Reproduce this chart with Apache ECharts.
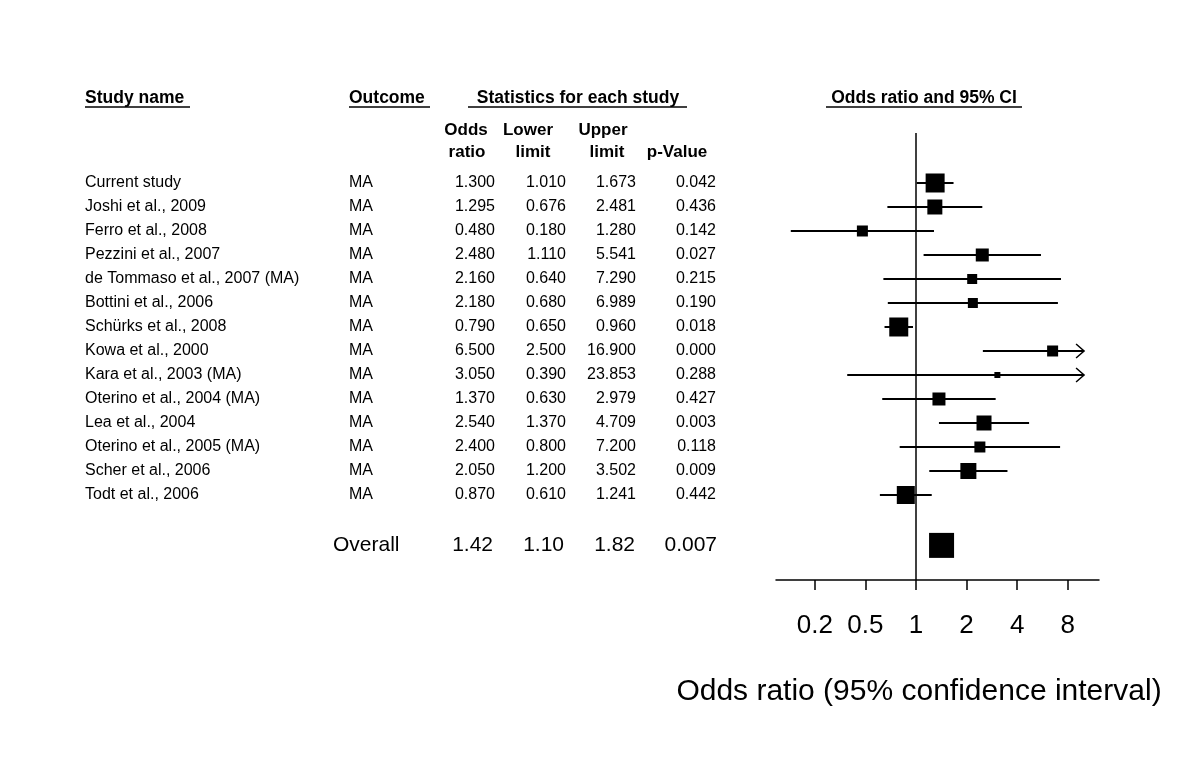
<!DOCTYPE html>
<html><head><meta charset="utf-8">
<script src="https://cdn.jsdelivr.net/npm/echarts@6/dist/echarts.min.js"></script>
<style>html,body{margin:0;padding:0;background:#fff}#c{width:1200px;height:772px}</style>
</head><body><div id="c"></div>
<script>
// ---------- data ----------
const studyNames = ['Current study','Joshi et al., 2009','Ferro et al., 2008','Pezzini et al., 2007','de Tommaso et al., 2007 (MA)','Bottini et al., 2006','Schürks et al., 2008','Kowa et al., 2000','Kara et al., 2003 (MA)','Oterino et al., 2004 (MA)','Lea et al., 2004','Oterino et al., 2005 (MA)','Scher et al., 2006','Todt et al., 2006'];
const outcomes = ['MA','MA','MA','MA','MA','MA','MA','MA','MA','MA','MA','MA','MA','MA'];
const oddsRatios = [1.300,1.295,0.480,2.480,2.160,2.180,0.790,6.500,3.050,1.370,2.540,2.400,2.050,0.870];
const lowerLimits = [1.010,0.676,0.180,1.110,0.640,0.680,0.650,2.500,0.390,0.630,1.370,0.800,1.200,0.610];
const upperLimits = [1.673,2.481,1.280,5.541,7.290,6.989,0.960,16.900,23.853,2.979,4.709,7.200,3.502,1.241];
const pValues = [0.042,0.436,0.142,0.027,0.215,0.190,0.018,0.000,0.288,0.427,0.003,0.118,0.009,0.442];
const studyWeights = [19,15,11,13,10,10,19,11,6,13,15,11,16,18];
const overallLabel = 'Overall';
const overallOR = 1.42, overallLower = 1.10, overallUpper = 1.82, overallP = 0.007, overallWeight = 25;
const tickValues = [0.25,0.5,1,2,4,8];
const tickLabels = ['0.2','0.5','1','2','4','8'];

// ---------- layout ----------
const FONT = '"Liberation Sans", Arial, Helvetica, sans-serif';
const overallRow = 15.1;
const xMinOR = 0.147, xMaxOR = 12.27, clipOR = 10;
const yMin = -2.083, yMax = 16.542;
const lg = Math.log2;
const boxScale = 1;

const forestData = oddsRatios.map((or, i) => [lg(lowerLimits[i]), lg(or), lg(upperLimits[i]), i, studyWeights[i], 1]);
forestData.push([lg(overallLower), lg(overallOR), lg(overallUpper), overallRow, overallWeight, 0]);

const tableData = studyNames.map((n, i) => [0, i]);
tableData.push([0, overallRow]);

const colName = 85, colOutcome = 349, colOR = 495, colLower = 566, colUpper = 636, colP = 716;

function txt(x, y, text, font, align) {
  return {type: 'text', x: x, y: y, style: {text: text, font: font, fill: '#000', textAlign: align || 'left', textVerticalAlign: 'middle'}};
}
function uline(x1, x2, y) {
  return {type: 'line', shape: {x1: x1, y1: y, x2: x2, y2: y}, style: {stroke: '#000', lineWidth: 1.5}};
}

const chart = echarts.init(document.getElementById('c'), null, {renderer: 'canvas'});
const HB = 'bold 17.5px ' + FONT;
const SB = 'bold 17px ' + FONT;

const option = {
  backgroundColor: '#fff',
  animation: false,
  grid: [
    {left: 776, top: 133, width: 323, height: 447},
    {left: 0, top: 133, width: 1200, height: 447}
  ],
  xAxis: [
    {
      type: 'value', gridIndex: 0, min: lg(xMinOR), max: lg(xMaxOR),
      splitLine: {show: false},
      axisLine: {show: true, onZero: false, lineStyle: {color: '#000', width: 1.5}},
      axisTick: {show: true, customValues: tickValues.map(lg), length: 10, lineStyle: {color: '#000', width: 1.5}},
      axisLabel: {
        show: true, customValues: tickValues.map(lg), margin: 33,
        fontSize: 26, fontFamily: FONT, color: '#000',
        formatter: function (v) {
          for (let k = 0; k < tickValues.length; k++) if (Math.abs(lg(tickValues[k]) - v) < 1e-6) return tickLabels[k];
          return '';
        }
      }
    },
    {type: 'value', gridIndex: 1, min: 0, max: 1200, show: false}
  ],
  yAxis: [
    {type: 'value', gridIndex: 0, min: yMin, max: yMax, inverse: true, show: false},
    {type: 'value', gridIndex: 1, min: yMin, max: yMax, inverse: true, show: false}
  ],
  graphic: [
    txt(85, 98, 'Study name', HB), uline(85, 190, 107),
    txt(349, 98, 'Outcome', HB), uline(349, 430, 107),
    txt(578, 98, 'Statistics for each study', HB, 'center'), uline(468, 687, 107),
    txt(924, 98, 'Odds ratio and 95% CI', HB, 'center'), uline(826, 1022, 107),
    txt(466, 130, 'Odds', SB, 'center'), txt(467, 152, 'ratio', SB, 'center'),
    txt(528, 130, 'Lower', SB, 'center'), txt(533, 152, 'limit', SB, 'center'),
    txt(603, 130, 'Upper', SB, 'center'), txt(607, 152, 'limit', SB, 'center'),
    txt(677, 152, 'p-Value', SB, 'center'),
    txt(919, 692, 'Odds ratio (95% confidence interval)', '30px ' + FONT, 'center')
  ],
  series: [
    {
      type: 'custom', xAxisIndex: 0, yAxisIndex: 0, silent: true,
      encode: {x: [0, 1, 2], y: 3},
      data: forestData,
      renderItem: function (params, api) {
        const lo = api.value(0), mid = api.value(1), hi = api.value(2), row = api.value(3);
        const w = api.value(4) * boxScale, showCI = api.value(5);
        const children = [];
        if (showCI) {
          const a = api.coord([Math.max(lo, lg(xMinOR)), row]);
          const b = api.coord([Math.min(hi, lg(clipOR)), row]);
          children.push({type: 'line', shape: {x1: a[0], y1: a[1], x2: b[0], y2: b[1]}, style: {stroke: '#000', lineWidth: 2}});
          if (hi > lg(clipOR)) {
            children.push({type: 'polyline', shape: {points: [[b[0] - 8, b[1] - 7], [b[0], b[1]], [b[0] - 8, b[1] + 7]]}, style: {stroke: '#000', lineWidth: 1.5, fill: null}});
          }
        }
        const c = api.coord([mid, row]);
        children.push({type: 'rect', shape: {x: c[0] - w / 2, y: c[1] - w / 2, width: w, height: w}, style: {fill: '#000'}});
        return {type: 'group', children: children};
      },
      markLine: {
        silent: true, symbol: 'none', animation: false,
        label: {show: false},
        lineStyle: {color: '#000', width: 1.5, type: 'solid'},
        data: [{xAxis: lg(1)}]
      }
    },
    {
      type: 'custom', xAxisIndex: 1, yAxisIndex: 1, silent: true,
      encode: {x: 0, y: 1},
      data: tableData,
      renderItem: function (params, api) {
        const i = params.dataIndex;
        const row = api.value(1);
        const y = api.coord([0, row])[1];
        const X = v => api.coord([v, row])[0];
        const children = [];
        if (i < studyNames.length) {
          const f = '16px ' + FONT;
          children.push(txt(X(colName), y, studyNames[i], f));
          children.push(txt(X(colOutcome), y, outcomes[i], f));
          children.push(txt(X(colOR), y, oddsRatios[i].toFixed(3), f, 'right'));
          children.push(txt(X(colLower), y, lowerLimits[i].toFixed(3), f, 'right'));
          children.push(txt(X(colUpper), y, upperLimits[i].toFixed(3), f, 'right'));
          children.push(txt(X(colP), y, pValues[i].toFixed(3), f, 'right'));
        } else {
          const f = '21px ' + FONT;
          children.push(txt(X(333), y, overallLabel, f));
          children.push(txt(X(493), y, overallOR.toFixed(2), f, 'right'));
          children.push(txt(X(564), y, overallLower.toFixed(2), f, 'right'));
          children.push(txt(X(635), y, overallUpper.toFixed(2), f, 'right'));
          children.push(txt(X(717), y, overallP.toFixed(3), f, 'right'));
        }
        return {type: 'group', children: children};
      }
    }
  ]
};
chart.setOption(option);
</script>
</body></html>
